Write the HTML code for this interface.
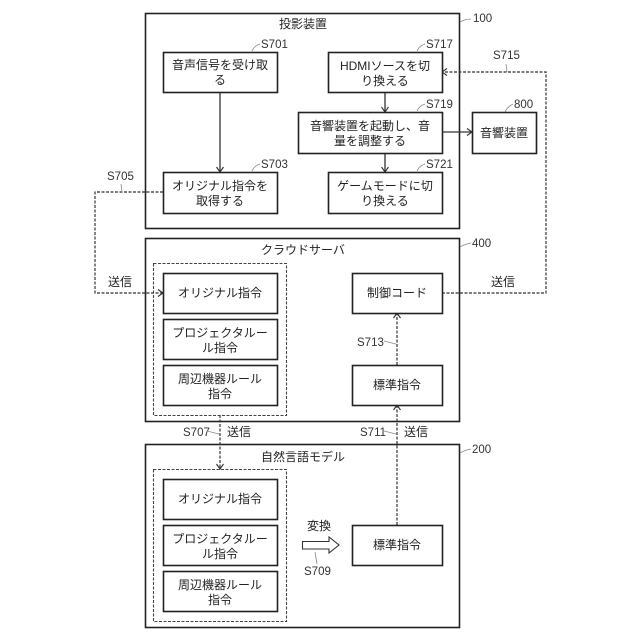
<!DOCTYPE html>
<html><head><meta charset="utf-8">
<style>
html,body{margin:0;padding:0;background:#fff;width:640px;height:640px;overflow:hidden}
svg{display:block}
text{font-family:"Liberation Sans","Noto Sans CJK JP",sans-serif;font-size:12px;fill:#222;text-anchor:middle}
.l{font-size:11.5px;text-anchor:start;fill:#333}
.b{fill:#fff;stroke:#222;stroke-width:1.6}
.d{fill:none;stroke:#444;stroke-width:1.1;stroke-dasharray:3 1.5}
.c{fill:none;stroke:#333;stroke-width:1.3}
.cd{fill:none;stroke:#333;stroke-width:1.2;stroke-dasharray:3 1.5}
.h{fill:none;stroke:#333;stroke-width:1.1}
.t{fill:none;stroke:#888;stroke-width:.8}
</style></head><body>
<svg width="640" height="640" viewBox="0 0 640 640" xmlns="http://www.w3.org/2000/svg">
<rect class="b" x="145.500" y="13.500" width="314" height="215"/>
<rect class="b" x="145.500" y="238.500" width="314" height="183"/>
<rect class="b" x="145.500" y="444.500" width="314" height="183"/>
<rect class="d" x="153.500" y="263.500" width="133" height="152"/>
<rect class="d" x="153.500" y="469.500" width="133" height="152"/>

<!-- connectors -->
<path class="c" d="M220 92V172"/><path class="h" d="M216.500 167L220 172L223.500 167"/>
<path class="c" d="M385 92V112"/><path class="h" d="M381.500 107L385 112L388.500 107"/>
<path class="c" d="M385 153V172"/><path class="h" d="M381.500 167L385 172L388.500 167"/>
<path class="c" d="M442 132H472"/><path class="h" d="M467 128.500L472 132L467 135.500"/>
<path class="cd" d="M163 192H95V293H163"/><path class="h" d="M158 289.500L163 293L158 296.500"/>
<path class="cd" d="M442 293H546V72H442"/><path class="h" d="M447 68.500L442 72L447 75.500"/>
<path class="cd" d="M220 415V469"/><path class="h" d="M216.500 464L220 469L223.500 464"/>
<path class="cd" d="M397 525V405"/><path class="h" d="M393.500 410L397 405L400.500 410"/>
<path class="cd" d="M397 365V313"/><path class="h" d="M393.500 318L397 313L400.500 318"/>

<!-- inner boxes -->
<rect class="b" x="163.500" y="52.500" width="114" height="40"/>
<rect class="b" x="163.500" y="172.500" width="114" height="41"/>
<rect class="b" x="328.500" y="52.500" width="114" height="40"/>
<rect class="b" x="298.500" y="112.500" width="144" height="41"/>
<rect class="b" x="328.500" y="172.500" width="114" height="41"/>
<rect class="b" x="472.500" y="112.500" width="64" height="41"/>
<rect class="b" x="163.500" y="273.500" width="114" height="40"/>
<rect class="b" x="163.500" y="319.500" width="114" height="40"/>
<rect class="b" x="163.500" y="365.500" width="114" height="40"/>
<rect class="b" x="352.500" y="273.500" width="90" height="40"/>
<rect class="b" x="352.500" y="365.500" width="90" height="40"/>
<rect class="b" x="163.500" y="479.500" width="114" height="40"/>
<rect class="b" x="163.500" y="525.500" width="114" height="40"/>
<rect class="b" x="163.500" y="571.500" width="114" height="40"/>
<rect class="b" x="352.500" y="525.500" width="90" height="40"/>

<path d="M302.500 541.500H329V537L339 545L329 553V549H302.500Z" fill="#fff" stroke="#333" stroke-width="1.1"/>

<!-- titles -->
<text x="303" y="28">投影装置</text>
<text x="303" y="254">クラウドサーバ</text>
<text x="303" y="461">自然言語モデル</text>

<!-- box labels -->
<text x="220" y="69">音声信号を受け取</text><text x="220" y="84">る</text>
<text x="220" y="190">オリジナル指令を</text><text x="220" y="205">取得する</text>
<text x="385" y="70">HDMIソースを切</text><text x="385" y="85">り換える</text>
<text x="370" y="130">音響装置を起動し、音</text><text x="370" y="145">量を調整する</text>
<text x="385" y="190">ゲームモードに切</text><text x="385" y="205">り換える</text>
<text x="504" y="137">音響装置</text>
<text x="220" y="297">オリジナル指令</text>
<text x="220" y="337">プロジェクタルー</text><text x="220" y="352">ル指令</text>
<text x="220" y="383">周辺機器ルール</text><text x="220" y="398">指令</text>
<text x="397" y="297">制御コード</text>
<text x="397" y="389">標準指令</text>
<text x="220" y="503">オリジナル指令</text>
<text x="220" y="543">プロジェクタルー</text><text x="220" y="558">ル指令</text>
<text x="220" y="589">周辺機器ルール</text><text x="220" y="604">指令</text>
<text x="397" y="549">標準指令</text>

<!-- other text -->
<text x="120" y="286">送信</text>
<text x="503" y="286">送信</text>
<text x="239" y="436">送信</text>
<text x="416" y="436">送信</text>
<text x="319" y="530">変換</text>

<!-- reference labels -->
<text class="l" x="261" y="48">S701</text>
<text class="l" x="261" y="168">S703</text>
<text class="l" x="107" y="180">S705</text>
<text class="l" x="426" y="48">S717</text>
<text class="l" x="426" y="108">S719</text>
<text class="l" x="426" y="168">S721</text>
<text class="l" x="493" y="59">S715</text>
<text class="l" x="514" y="108">800</text>
<text class="l" x="473" y="22">100</text>
<text class="l" x="472" y="247">400</text>
<text class="l" x="472" y="453">200</text>
<text class="l" x="357" y="346">S713</text>
<text class="l" x="360" y="436">S711</text>
<text class="l" x="183" y="436">S707</text>
<text class="l" x="304" y="575">S709</text>

<!-- leader ticks -->
<path class="t" d="M252 51Q254 46 260 44"/>
<path class="t" d="M252 171Q254 166 260 164"/>
<path class="t" d="M121 184L122 192"/>
<path class="t" d="M417 51Q419 46 425 44"/>
<path class="t" d="M417 111Q419 106 425 104"/>
<path class="t" d="M417 171Q419 166 425 164"/>
<path class="t" d="M506 64L507 72"/>
<path class="t" d="M505 112Q507 107 513 104"/>
<path class="t" d="M460 22Q465 19 471 19"/>
<path class="t" d="M460 247Q465 244 471 243"/>
<path class="t" d="M460 453Q465 450 471 449"/>
<path class="t" d="M384 341L396 344"/>
<path class="t" d="M384 431L396 434"/>
<path class="t" d="M207 431L219 434"/>
<path class="t" d="M315 552L317 564"/>
</svg>
</body></html>
